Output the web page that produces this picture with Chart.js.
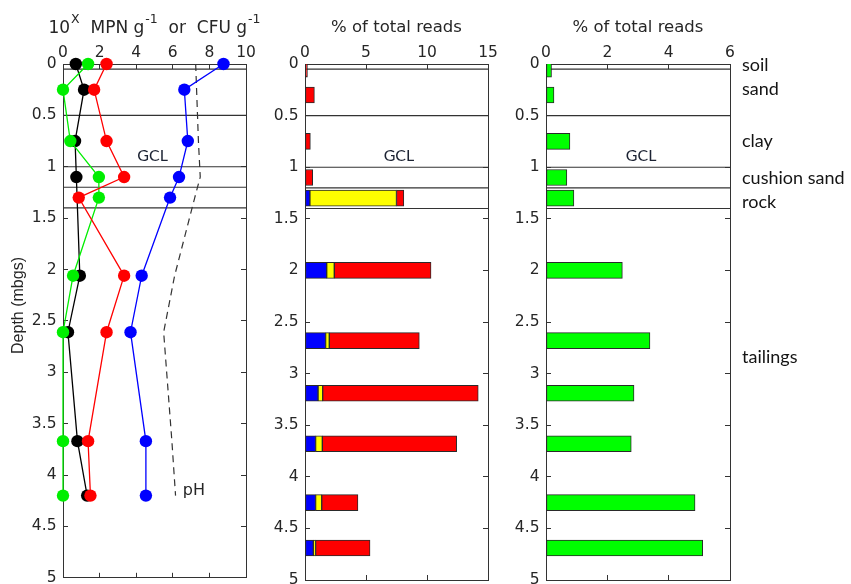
<!DOCTYPE html>
<html>
<head>
<meta charset="utf-8">
<script src="https://cdn.jsdelivr.net/npm/chart.js@4.4.1/dist/chart.umd.min.js"></script>
<style>
  html, body { margin: 0; padding: 0; background: #ffffff; overflow: hidden; }
  #stage { position: relative; width: 851px; height: 584px; }
  #stage canvas { position: absolute; left: 0; top: 0; }
</style>
</head>
<body>
<div id="stage">
  <canvas id="panelCounts" width="851" height="584"></canvas>
  <canvas id="panelReadsA" width="851" height="584"></canvas>
  <canvas id="panelReadsB" width="851" height="584"></canvas>
</div>
<script>
// ---------------- DATA ----------------
// Panel 1: culture counts (10^x MPN g-1 or CFU g-1) and pH vs depth (mbgs)
const sampleDepths = [0, 0.25, 0.75, 1.1, 1.3, 2.06, 2.61, 3.67, 4.2];
const blackCounts  = [0.70, 1.15, 0.66, 0.73, null, 0.92, 0.27, 0.79, 1.32];
const greenCounts  = [1.37, 0.00, 0.40, 1.96, 1.96, 0.55, 0.00, 0.00, 0.00];
const redCounts    = [2.38, 1.70, 2.38, 3.34, 0.86, 3.34, 2.38, 1.37, 1.50];
const blueCounts   = [8.77, 6.63, 6.82, 6.34, 5.85, 4.30, 3.69, 4.53, 4.53];
const phValues     = [7.25, 7.30, 7.40, 7.50, 7.20, 6.10, 5.50, 5.95, 6.15];

// Panels 2 and 3: % of total reads vs depth
const readDepths  = [0.05, 0.3, 0.75, 1.1, 1.3, 2.0, 2.68, 3.19, 3.68, 4.25, 4.69];
const blueReads   = [0, 0, 0, 0, 0.40, 1.78, 1.69, 1.07, 0.87, 0.87, 0.68];
const yellowReads = [0, 0, 0, 0, 7.10, 0.62, 0.30, 0.38, 0.55, 0.50, 0.19];
const redReads    = [0.20, 0.77, 0.44, 0.63, 0.60, 7.93, 7.38, 12.75, 11.01, 2.97, 4.46];
const greenReads  = [0.18, 0.26, 0.78, 0.68, 0.91, 2.49, 3.39, 2.87, 2.78, 4.86, 5.11];

// Layers
const layerBoundaries = [0.05, 0.5, 1.0, 1.2, 1.4];
const layerNames      = ['soil', 'sand', 'clay', 'cushion sand', 'rock', 'tailings'];
const layerNameDepths = [0.065, 0.30, 0.80, 1.16, 1.40, 2.90];
const gclText = 'GCL';
const gclDepth = 0.94;
const gclX = [4.9, 7.7, 3.1];
const phText = 'pH';
const phTextDepth = 4.19;
const phTextX = 6.55;

// Ticks and titles
const depthTicks = [0, 0.5, 1, 1.5, 2, 2.5, 3, 3.5, 4, 4.5, 5];
const countTicks = [0, 2, 4, 6, 8, 10];
const readTicksA = [0, 5, 10, 15];
const readTicksB = [0, 2, 4, 6];
const depthTitle = 'Depth (mbgs)';
const readsTitle = '% of total reads';
const countTitle = [
  { text: '10', sup: false }, { text: 'X', sup: true },
  { text: '  MPN g', sup: false }, { text: '-1', sup: true },
  { text: '  or  CFU g', sup: false }, { text: '-1', sup: true }
];

// ---------------- STYLE ----------------
const FONT_SANS = 'DejaVu Sans';
const FONT_LABEL = 'Lato';
const INK = '#262626';
const AXIS_COLOR = '#333333';
const TICK_LEN = -5;
const CANVAS_W = 851, CANVAS_H = 584;
const PLOT_TOP = 64, PLOT_BOTTOM = 580, Y_AXIS_W = 40;

function zeroPad(s) { s.paddingLeft = 0; s.paddingRight = 0; s.paddingTop = 0; s.paddingBottom = 0; }
const plainLabel = v => String(v);

function buildScales(xTicks, xTitle) {
  const xMin = xTicks[0], xMax = xTicks[xTicks.length - 1];
  const grid = () => ({ drawOnChartArea: false, tickLength: TICK_LEN, color: AXIS_COLOR, lineWidth: 1, offset: false });
  const border = () => ({ display: true, color: AXIS_COLOR, width: 1 });
  const setTicks = arr => (s => { s.ticks = arr.map(v => ({ value: v })); });
  return {
    x: {
      type: 'linear', position: 'top', min: xMin, max: xMax, offset: false,
      ticks: { font: { family: FONT_SANS, size: 15.5 }, color: INK, padding: 6.5, maxRotation: 0, autoSkip: false, callback: plainLabel },
      afterBuildTicks: setTicks(xTicks),
      grid: grid(), border: border(),
      title: xTitle ? { display: true, text: xTitle, font: { family: FONT_SANS, size: 16.5 }, color: INK, padding: { top: 17.5, bottom: 0 } } : { display: false },
      afterFit(s) { s.height = PLOT_TOP; zeroPad(s); }
    },
    xB: {
      type: 'linear', position: 'bottom', min: xMin, max: xMax, offset: false,
      ticks: { display: false }, afterBuildTicks: setTicks(xTicks),
      grid: grid(), border: border(),
      afterFit(s) { s.height = 0; zeroPad(s); }
    },
    y: {
      type: 'linear', position: 'left', reverse: true, min: 0, max: 5, offset: false,
      ticks: { font: { family: FONT_SANS, size: 15.5 }, color: INK, padding: 11.5, autoSkip: false, callback: plainLabel },
      afterBuildTicks: setTicks(depthTicks),
      grid: grid(), border: border(),
      afterFit(s) { s.width = Y_AXIS_W; zeroPad(s); }
    },
    yR: {
      type: 'linear', position: 'right', reverse: true, min: 0, max: 5, offset: false,
      ticks: { display: false }, afterBuildTicks: setTicks(depthTicks),
      grid: grid(), border: border(),
      afterFit(s) { s.width = 0; zeroPad(s); }
    }
  };
}

function baseOptions(plotLeft, plotRight, xTicks, xTitle) {
  return {
    responsive: false,
    animation: false,
    events: [],
    layout: { padding: { left: plotLeft - Y_AXIS_W, right: CANVAS_W - plotRight, top: 0, bottom: CANVAS_H - PLOT_BOTTOM } },
    plugins: { legend: { display: false }, tooltip: { enabled: false }, title: { display: false } },
    scales: buildScales(xTicks, xTitle)
  };
}

function layerLineSets(xTicks, asType) {
  const xMin = xTicks[0], xMax = xTicks[xTicks.length - 1];
  return layerBoundaries.map(d => {
    const ds = {
      data: [{ x: xMin, y: d }, { x: xMax, y: d }],
      borderColor: AXIS_COLOR, borderWidth: 1.1, pointRadius: 0, showLine: true,
      fill: false, clip: false, order: 20
    };
    if (asType) ds.type = 'line';
    return ds;
  });
}

// Annotation plugin factory: text placed through the chart's scales
function makeAnnotations(cfg) {
  return {
    id: 'annotations',
    afterDatasetsDraw(chart) {
      const { ctx, chartArea: ca, scales } = chart;
      ctx.save();
      (cfg.texts || []).forEach(t => {
        ctx.font = `${t.size}px "${t.family}"`;
        ctx.fillStyle = t.color;
        ctx.textAlign = t.align || 'center';
        ctx.textBaseline = 'alphabetic';
        const x = (t.rightOffset !== undefined) ? ca.right + t.rightOffset : scales.x.getPixelForValue(t.x);
        ctx.fillText(t.text, x, scales.y.getPixelForValue(t.depth));
      });
      if (cfg.rich) {
        const pieces = cfg.rich;
        const mainSize = 17, supSize = 12.5;
        const widths = pieces.map(p => {
          ctx.font = `${p.sup ? supSize : mainSize}px "${FONT_SANS}"`;
          return ctx.measureText(p.text).width + (p.sup ? 1 : 0);
        });
        const total = widths.reduce((a, b) => a + b, 0);
        let x = (ca.left + ca.right) / 2 - total / 2;
        const base = 33;
        ctx.fillStyle = INK; ctx.textAlign = 'left'; ctx.textBaseline = 'alphabetic';
        pieces.forEach((p, i) => {
          ctx.font = `${p.sup ? supSize : mainSize}px "${FONT_SANS}"`;
          ctx.fillText(p.text, x + (p.sup ? 1 : 0), p.sup ? base - 10 : base);
          x += widths[i];
        });
      }
      if (cfg.yTitle) {
        ctx.font = `16px "Liberation Sans", Arial, sans-serif`;
        ctx.fillStyle = INK; ctx.textAlign = 'center'; ctx.textBaseline = 'middle';
        ctx.translate(ca.left - 44, ca.top + (ca.bottom - ca.top) * 0.47);
        ctx.rotate(-Math.PI / 2);
        ctx.fillText(cfg.yTitle, 0, 0);
      }
      ctx.restore();
    }
  };
}

// ---------------- PANEL 1: counts + pH ----------------
function pointsOf(values) {
  return sampleDepths.map((d, i) => ({ x: values[i], y: d })).filter(p => p.x !== null && p.x !== undefined);
}
function countSeries(label, values, color, order) {
  return {
    label, data: pointsOf(values), showLine: true,
    borderColor: color, backgroundColor: color, borderWidth: 1.3,
    pointRadius: 6.2, pointHoverRadius: 6.2, pointBorderWidth: 0,
    clip: false, order
  };
}

new Chart(document.getElementById('panelCounts'), {
  type: 'scatter',
  data: {
    datasets: [
      countSeries('black', blackCounts, '#000000', 6),
      countSeries('green', greenCounts, '#00ee00', 5),
      countSeries('red', redCounts, '#ff0000', 4),
      countSeries('blue', blueCounts, '#0000ff', 3),
      {
        label: 'pH', data: pointsOf(phValues), showLine: true,
        borderColor: '#333333', borderWidth: 1.2, borderDash: [7, 5],
        pointRadius: 0, clip: false, order: 10
      },
      ...layerLineSets(countTicks, false)
    ]
  },
  options: baseOptions(63, 246, countTicks, null),
  plugins: [makeAnnotations({
    texts: [
      { text: gclText, x: gclX[0], depth: gclDepth, size: 16, family: FONT_LABEL, color: '#1c2333' },
      { text: phText, x: phTextX, depth: phTextDepth, size: 16, family: FONT_SANS, color: INK, align: 'left' }
    ],
    rich: countTitle,
    yTitle: depthTitle
  })]
});

// ---------------- PANELS 2 & 3: bars ----------------
function floatBars(label, starts, widths, color) {
  return {
    type: 'bar', label,
    data: readDepths.map((d, i) => widths[i] > 0 ? { x: [starts[i], starts[i] + widths[i]], y: d } : null).filter(Boolean),
    backgroundColor: color, borderColor: '#2a2a2a', borderWidth: 1, borderSkipped: false,
    barThickness: 16, grouped: false,
    clip: { left: 2, top: 0, right: 2, bottom: 2 }, order: 1
  };
}
const zeros = readDepths.map(() => 0);
const yellowStart = blueReads.slice();
const redStart = blueReads.map((b, i) => b + yellowReads[i]);

new Chart(document.getElementById('panelReadsA'), {
  type: 'bar',
  data: {
    datasets: [
      floatBars('blue', zeros, blueReads, '#0000ff'),
      floatBars('yellow', yellowStart, yellowReads, '#ffff00'),
      floatBars('red', redStart, redReads, '#ff0000'),
      ...layerLineSets(readTicksA, true)
    ]
  },
  options: Object.assign(baseOptions(305, 488, readTicksA, readsTitle), { indexAxis: 'y' }),
  plugins: [makeAnnotations({
    texts: [{ text: gclText, x: gclX[1], depth: gclDepth, size: 16, family: FONT_LABEL, color: '#1c2333' }]
  })]
});

const layerTexts = layerNames.map((n, i) => ({
  text: n, rightOffset: 12, depth: layerNameDepths[i], size: 18, family: FONT_LABEL, color: '#141414', align: 'left'
}));

new Chart(document.getElementById('panelReadsB'), {
  type: 'bar',
  data: {
    datasets: [
      floatBars('green', zeros, greenReads, '#00ff00'),
      ...layerLineSets(readTicksB, true)
    ]
  },
  options: Object.assign(baseOptions(546, 730, readTicksB, readsTitle), { indexAxis: 'y' }),
  plugins: [makeAnnotations({
    texts: [{ text: gclText, x: gclX[2], depth: gclDepth, size: 16, family: FONT_LABEL, color: '#1c2333' }].concat(layerTexts)
  })]
});
</script>
</body>
</html>
